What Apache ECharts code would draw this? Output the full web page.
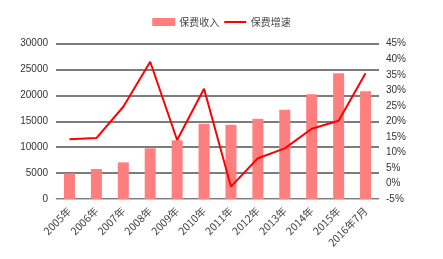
<!DOCTYPE html>
<html><head><meta charset="utf-8">
<script src="https://cdn.jsdelivr.net/npm/echarts@6/dist/echarts.min.js"></script>
<style>html,body{margin:0;padding:0;background:#fff}#c{width:443px;height:259px}</style>
</head><body><div id="c"></div>
<script>
var categories = ['2005年','2006年','2007年','2008年','2009年','2010年','2011年','2012年','2013年','2014年','2015年','2016年7月'];
var premiumIncome = [4930, 5790, 7080, 9790, 11330, 14530, 14340, 15490, 17220, 20230, 24280, 20810];
var premiumGrowth = [14.2, 14.6, 24.7, 39.2, 14.0, 30.5, -1.0, 8.1, 11.3, 17.6, 20.2, 35.5];
var leftTicks = {min: 0, max: 30000, interval: 5000};
var rightTicks = {min: -5, max: 45, interval: 5};

var chart = echarts.init(document.getElementById('c'), null, {renderer: 'canvas'});
var font = 'Liberation Sans, Arial, sans-serif';
var lineIcon = 'path://M0,0L0.01,0L0.01,0.01Z M0,3L22,3L22,5L0,5Z M0,8L0.01,8L0.01,7.99Z';
chart.setOption({
  animation: false,
  textStyle: {fontFamily: font},
  legend: {
    top: 12, left: 'center', itemWidth: 23, itemHeight: 8, itemGap: 5,
    textStyle: {fontSize: 10, color: '#444', fontFamily: 'Noto Sans CJK SC', padding: [0, 0, 0, -1]},
    data: [{name: '保费收入', icon: 'rect'}, {name: '保费增速', icon: lineIcon}]
  },
  grid: {left: 56, right: 64, top: 43.7, bottom: 60},
  xAxis: {
    type: 'category', data: categories,
    axisTick: {show: false},
    axisLine: {lineStyle: {color: '#c8c8c8', width: 1}},
    axisLabel: {rotate: 45, fontSize: 10.5, color: '#444', margin: 10, interval: 0, fontFamily: 'Noto Sans CJK SC'}
  },
  yAxis: [{
    type: 'value', min: leftTicks.min, max: leftTicks.max, interval: leftTicks.interval,
    axisLabel: {fontSize: 10, color: '#333', margin: 8, formatter: function (v) { return String(v); }},
    axisLine: {show: false}, axisTick: {show: false},
    splitLine: {lineStyle: {color: '#505050', width: 1.5}}
  }, {
    type: 'value', min: rightTicks.min, max: rightTicks.max, interval: rightTicks.interval,
    axisLabel: {fontSize: 10, color: '#333', margin: 7, formatter: '{value}%'},
    axisLine: {show: false}, axisTick: {show: false},
    splitLine: {show: false}
  }],
  series: [{
    name: '保费收入', type: 'bar', data: premiumIncome, yAxisIndex: 0,
    barWidth: 11, itemStyle: {color: '#ff7f7f'}
  }, {
    name: '保费增速', type: 'line', data: premiumGrowth, yAxisIndex: 1,
    symbol: 'none', lineStyle: {color: '#ff0000', width: 2}, itemStyle: {color: '#ff0000'}
  }]
});
</script></body></html>
